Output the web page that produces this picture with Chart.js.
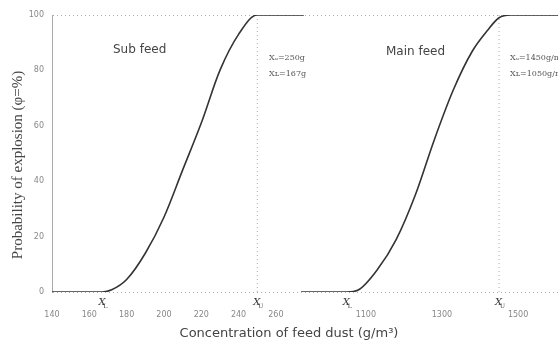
<!DOCTYPE html>
<html>
<head>
<meta charset="utf-8">
<script src="https://cdn.jsdelivr.net/npm/chart.js@4/dist/chart.umd.min.js"></script>
<style>
  html, body { margin: 0; padding: 0; background: #fff; }
  #wrap { width: 558px; height: 350px; }
</style>
</head>
<body>
<div id="wrap"><canvas id="showchart" width="558" height="350"></canvas></div>
<script>
// concentration (g/m3) and probability (%)
var subConc = [140, 150, 160, 167, 172, 180, 190, 200, 210, 220, 230, 240, 250, 260, 275];
var subProb = [0, 0, 0, 0, 0.8, 4.5, 14, 27, 44, 61, 80, 93, 100, 100, 100];
var mainConc = [930, 1000, 1040, 1050, 1080, 1130, 1180, 1230, 1280, 1330, 1380, 1420, 1450, 1480, 1605];
var mainProb = [0, 0, 0, 0, 0.7, 8, 19, 35, 55, 73, 87, 94.5, 99, 100, 100];
var xTicks = [140, 160, 180, 200, 220, 240, 260, 1100, 1300, 1500];
var yTicks = [0, 20, 40, 60, 80, 100];
var subXL = 167, subXU = 250;
var mainXL = 1050, mainXU = 1450;

// broken axis: sub feed range and main feed range share one scale
function toAxis(v) {
  if (v < 600) return (v - 140) / 20;
  return 8.41 + (v - 1100) / 200 * 2.04;
}
function pts(xs, ys) {
  var out = [];
  for (var i in xs) out.push({x: toAxis(xs[i]), y: ys[i]});
  return out;
}

var lineCol = '#333';
var dotCol = '#aaa';

var marks = {
  id: 'marks',
  afterDraw: function(chart) {
    var c = chart.ctx, xs = chart.scales.x, ys = chart.scales.y;
    c.save();
    c.fillStyle = '#444';
    c.font = '12px "DejaVu Sans", sans-serif';
    c.textBaseline = 'middle';
    c.fillText('Sub feed', 113, 50);
    c.fillText('Main feed', 386, 52);
    c.fillStyle = '#555';
    c.font = '8px "DejaVu Serif", serif';
    c.fillText('X\u1d64=' + subXU + 'g', 269, 58);
    c.fillText('X\u029f=' + subXL + 'g', 269, 74);
    c.fillText('X\u1d64=' + mainXU + 'g/m\u00b3', 510, 58);
    c.fillText('X\u029f=' + mainXL + 'g/m\u00b3', 510, 74);
    // X_L / X_U markers under axis
    var labs = [[subXL, 'L'], [subXU, 'U'], [mainXL, 'L'], [mainXU, 'U']];
    c.fillStyle = '#333';
    for (var i in labs) {
      var px = xs.getPixelForValue(toAxis(labs[i][0]));
      c.font = 'italic 10px "DejaVu Serif", serif';
      c.fillText('X', px - 4, 302);
      c.font = '6px "DejaVu Serif", serif';
      c.fillText(labs[i][1], px + 1, 306);
    }
    // axis titles
    c.fillStyle = '#444';
    c.textAlign = 'center';
    c.font = '13px "DejaVu Sans", sans-serif';
    c.fillText('Concentration of feed dust (g/m\u00b3)', 289, 334);
    c.translate(18, 165);
    c.rotate(-Math.PI / 2);
    c.font = '15px "Liberation Serif", serif';
    c.fillText('Probability of explosion (\u03c6=%)', 0, 0);
    c.restore();
  }
};

var ctx = document.getElementById('showchart');
var chart = new Chart(ctx, {
  type: 'line',
  data: {
    datasets: [
      {data: pts(subConc, subProb), borderColor: lineCol, borderWidth: 1.6, pointRadius: 0, cubicInterpolationMode: 'monotone'},
      {data: pts(mainConc, mainProb), borderColor: lineCol, borderWidth: 1.6, pointRadius: 0, cubicInterpolationMode: 'monotone'},
      {data: pts([subXU, subXU], [0, 100]), borderColor: dotCol, borderWidth: 1, borderDash: [1, 3], pointRadius: 0},
      {data: pts([mainXU, mainXU], [0, 100]), borderColor: dotCol, borderWidth: 1, borderDash: [1, 3], pointRadius: 0}
    ]
  },
  options: {
    responsive: false,
    animation: false,
    events: [],
    layout: {padding: {top: 15, right: 0, left: 0, bottom: 0}},
    plugins: {legend: {display: false}, tooltip: {enabled: false}},
    scales: {
      x: {
        type: 'linear',
        min: 0,
        max: 13.56,
        afterFit: function(s) { s.height = 58; },
        afterBuildTicks: function(s) {
          s.ticks = xTicks.map(function(v) { return {value: toAxis(v)}; });
        },
        ticks: {
          color: '#888',
          font: {size: 8, family: 'DejaVu Sans'},
          padding: 10,
          maxRotation: 0,
          autoSkip: false,
          callback: function(val, idx) { return String(xTicks[idx]); }
        },
        grid: {display: false},
        border: {display: false}
      },
      y: {
        min: 0,
        max: 100,
        afterFit: function(s) { s.width = 52; },
        afterBuildTicks: function(s) {
          s.ticks = yTicks.map(function(v) { return {value: v}; });
        },
        ticks: {
          color: '#888',
          font: {size: 8, family: 'DejaVu Sans'},
          padding: 8
        },
        grid: {
          drawTicks: false,
          color: function(c) { return (c.tick && (c.tick.value === 0 || c.tick.value === 100)) ? dotCol : 'rgba(0,0,0,0)'; },
          tickBorderDash: [1, 2]
        },
        border: {display: true, color: dotCol, dash: [1, 3]}
      }
    }
  },
  plugins: [marks]
});
</script>
</body>
</html>
